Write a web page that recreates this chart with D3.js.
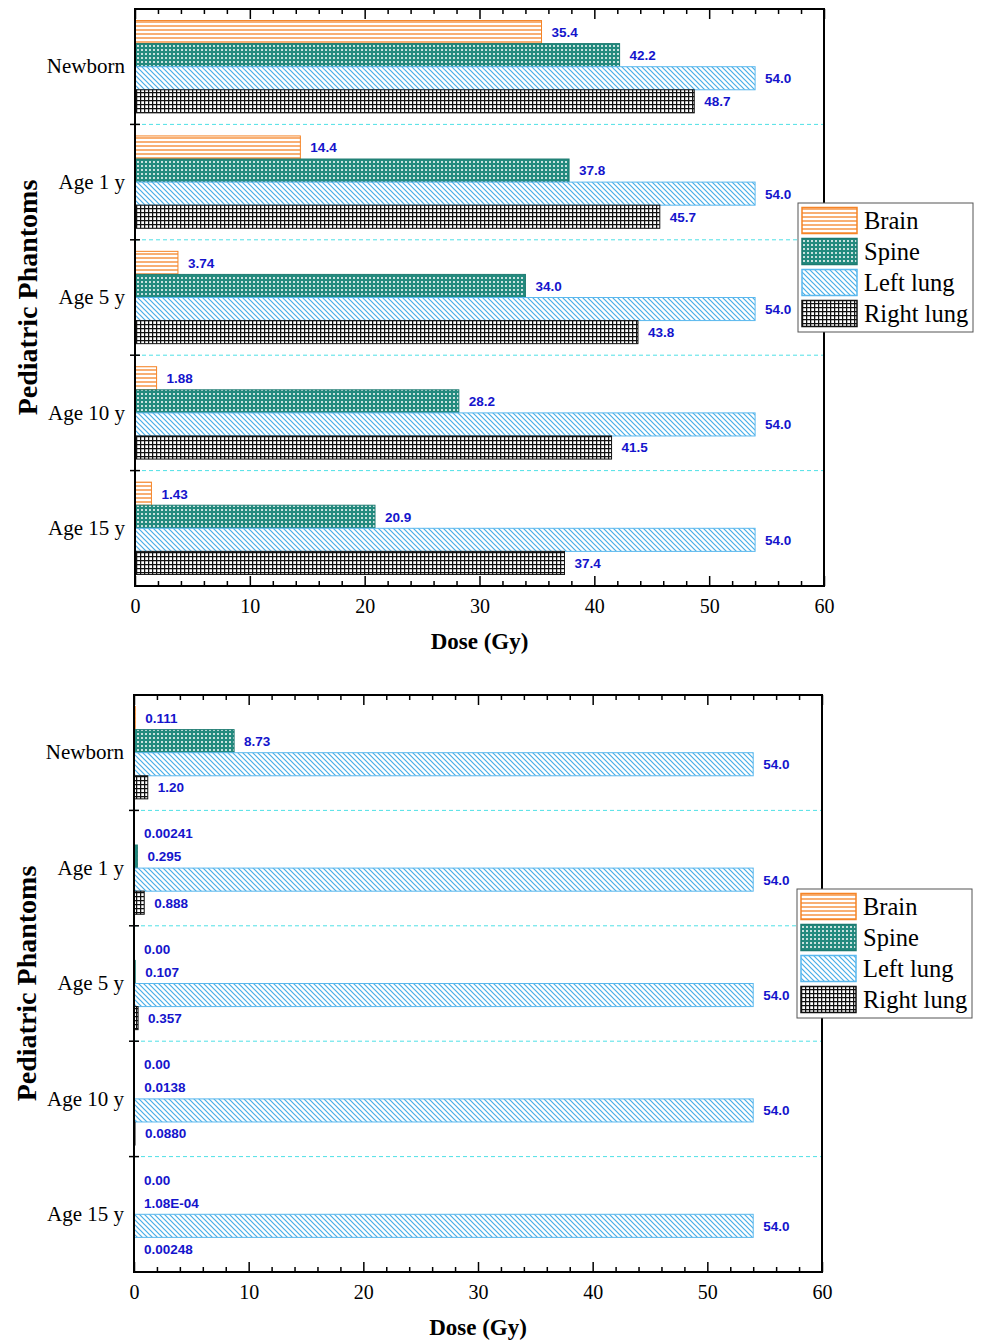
<!DOCTYPE html>
<html>
<head>
<meta charset="utf-8">
<script src="https://cdn.jsdelivr.net/npm/d3@7"></script>
<style>
  body { margin: 0; background: #fff; }
  svg { display: block; }
</style>
</head>
<body>
<div id="chart"></div>
<script>
// data
const groups = ["Newborn", "Age 1 y", "Age 5 y", "Age 10 y", "Age 15 y"];
const organs = ["Brain", "Spine", "Left lung", "Right lung"];
const xTicks = [0, 10, 20, 30, 40, 50, 60];

// upper panel (labels kept as printed)
const topBrain = ["35.4", "14.4", "3.74", "1.88", "1.43"];
const topSpine = ["42.2", "37.8", "34.0", "28.2", "20.9"];
const topLeftLung = ["54.0", "54.0", "54.0", "54.0", "54.0"];
const topRightLung = ["48.7", "45.7", "43.8", "41.5", "37.4"];

// lower panel
const botBrain = ["0.111", "0.00241", "0.00", "0.00", "0.00"];
const botSpine = ["8.73", "0.295", "0.107", "0.0138", "1.08E-04"];
const botLeftLung = ["54.0", "54.0", "54.0", "54.0", "54.0"];
const botRightLung = ["1.20", "0.888", "0.357", "0.0880", "0.00248"];

const serif = "'Liberation Serif', 'Times New Roman', serif";
const sans = "'Liberation Sans', Arial, sans-serif";
const labelBlue = "#1414cc";

const svg = d3.select("#chart").append("svg")
  .attr("width", 982)
  .attr("height", 1341);

// hatch patterns
const defs = svg.append("defs");

const pBrain = defs.append("pattern").attr("id", "p-brain")
  .attr("patternUnits", "userSpaceOnUse").attr("width", 4).attr("height", 4);
pBrain.append("rect").attr("width", 4).attr("height", 4).attr("fill", "#fff");
pBrain.append("line").attr("x1", 0).attr("x2", 4).attr("y1", 2).attr("y2", 2)
  .attr("stroke", "#f58426").attr("stroke-width", 1.3);

const pSpine = defs.append("pattern").attr("id", "p-spine")
  .attr("patternUnits", "userSpaceOnUse").attr("width", 4).attr("height", 4);
pSpine.append("rect").attr("width", 4).attr("height", 4).attr("fill", "#238a7e");
pSpine.append("circle").attr("cx", 2).attr("cy", 2).attr("r", 1).attr("fill", "#fff");

const pLeft = defs.append("pattern").attr("id", "p-left")
  .attr("patternUnits", "userSpaceOnUse").attr("width", 5).attr("height", 5);
pLeft.append("rect").attr("width", 5).attr("height", 5).attr("fill", "#fff");
pLeft.append("path").attr("d", "M-1,-1L6,6M-1,4L1,6M4,-1L6,1")
  .attr("stroke", "#48aee8").attr("stroke-width", 1.2);

const pRight = defs.append("pattern").attr("id", "p-right")
  .attr("patternUnits", "userSpaceOnUse").attr("width", 4).attr("height", 4);
pRight.append("rect").attr("width", 4).attr("height", 4).attr("fill", "#fff");
pRight.append("path").attr("d", "M0,0.5H4M0.5,0V4")
  .attr("stroke", "#111").attr("stroke-width", 1.5);

const fills = ["url(#p-brain)", "url(#p-spine)", "url(#p-left)", "url(#p-right)"];
const strokes = ["#f58426", "#1d7a70", "#5ab8ee", "#111"];

function drawPanel(series, box, legendBox) {
  const g = svg.append("g");
  const x = d3.scaleLinear().domain([0, 60]).range([box.x0, box.x1]);
  const y = d3.scaleBand().domain(groups).range([box.y0, box.y1]);
  const yi = d3.scaleBand().domain(organs).range([0, y.bandwidth()])
    .paddingInner(0).paddingOuter(0.5);

  // dashed separators
  groups.slice(1).forEach(grp => {
    g.append("line")
      .attr("x1", box.x0).attr("x2", box.x1)
      .attr("y1", y(grp)).attr("y2", y(grp))
      .attr("stroke", "#4fe0e6").attr("stroke-width", 1)
      .attr("stroke-dasharray", "4,3");
  });

  // bars
  series.forEach((vals, si) => {
    const gs = g.append("g");
    gs.selectAll("rect")
      .data(vals)
      .join("rect")
      .attr("x", x(0))
      .attr("y", (d, i) => y(groups[i]) + yi(organs[si]))
      .attr("width", d => x(+d) - x(0))
      .attr("height", yi.bandwidth())
      .attr("fill", fills[si])
      .attr("stroke", strokes[si])
      .attr("stroke-width", 1);
    gs.selectAll("text")
      .data(vals)
      .join("text")
      .attr("x", d => x(+d) + 10)
      .attr("y", (d, i) => y(groups[i]) + yi(organs[si]) + yi.bandwidth() / 2)
      .attr("dy", "0.36em")
      .attr("font-family", sans)
      .attr("font-weight", "bold")
      .attr("font-size", 13.5)
      .attr("fill", labelBlue)
      .text(d => d);
  });

  // frame
  g.append("rect")
    .attr("x", box.x0).attr("y", box.y0)
    .attr("width", box.x1 - box.x0).attr("height", box.y1 - box.y0)
    .attr("fill", "none").attr("stroke", "#000").attr("stroke-width", 2);

  // inward ticks, bottom and top
  const minor = d3.range(0, 61, 2).filter(v => v % 10 !== 0);
  const bottom = g.append("g").attr("transform", `translate(0,${box.y1})`)
    .call(d3.axisBottom(x).tickValues(xTicks).tickSize(-10).tickPadding(13).tickFormat(d3.format("d")));
  bottom.select(".domain").remove();
  bottom.selectAll("line").attr("stroke-width", 1.5);
  bottom.selectAll("text").attr("font-family", serif).attr("font-size", 20).attr("fill", "#000");

  const bottomMinor = g.append("g").attr("transform", `translate(0,${box.y1})`)
    .call(d3.axisBottom(x).tickValues(minor).tickSize(-5).tickFormat(""));
  bottomMinor.select(".domain").remove();
  bottomMinor.selectAll("line").attr("stroke-width", 1.5);

  const top = g.append("g").attr("transform", `translate(0,${box.y0})`)
    .call(d3.axisTop(x).tickValues(xTicks).tickSize(-10).tickFormat(""));
  top.select(".domain").remove();
  top.selectAll("line").attr("stroke-width", 1.5);

  const topMinor = g.append("g").attr("transform", `translate(0,${box.y0})`)
    .call(d3.axisTop(x).tickValues(minor).tickSize(-5).tickFormat(""));
  topMinor.select(".domain").remove();
  topMinor.selectAll("line").attr("stroke-width", 1.5);

  // left ticks at group boundaries
  groups.slice(1).forEach(grp => {
    g.append("line")
      .attr("x1", box.x0 - 5).attr("x2", box.x0 + 5)
      .attr("y1", y(grp)).attr("y2", y(grp))
      .attr("stroke", "#000").attr("stroke-width", 1.5);
  });

  // category labels
  g.selectAll(".cat")
    .data(groups)
    .join("text")
    .attr("class", "cat")
    .attr("x", box.x0 - 10)
    .attr("y", d => y(d) + y.bandwidth() / 2)
    .attr("text-anchor", "end")
    .attr("dy", "0.32em")
    .attr("font-family", serif)
    .attr("font-size", 21)
    .text(d => d);

  // axis titles
  g.append("text")
    .attr("transform", `translate(${box.x0 - 108},${(box.y0 + box.y1) / 2}) rotate(-90)`)
    .attr("text-anchor", "middle")
    .attr("dy", "0.35em")
    .attr("font-family", serif)
    .attr("font-weight", "bold")
    .attr("font-size", 28)
    .text("Pediatric Phantoms");

  g.append("text")
    .attr("x", (box.x0 + box.x1) / 2)
    .attr("y", box.y1 + 63)
    .attr("text-anchor", "middle")
    .attr("font-family", serif)
    .attr("font-weight", "bold")
    .attr("font-size", 23)
    .text("Dose (Gy)");

  // legend
  const lg = g.append("g").attr("transform", `translate(${legendBox.x},${legendBox.y})`);
  lg.append("rect")
    .attr("width", 175).attr("height", 129)
    .attr("fill", "#fff").attr("stroke", "#555").attr("stroke-width", 1);
  organs.forEach((o, i) => {
    lg.append("rect")
      .attr("x", 4).attr("y", 4.5 + i * 31)
      .attr("width", 55).attr("height", 26)
      .attr("fill", fills[i]).attr("stroke", strokes[i]).attr("stroke-width", 1.5);
    lg.append("text")
      .attr("x", 66).attr("y", 17.5 + i * 31)
      .attr("dy", "0.35em")
      .attr("font-family", serif)
      .attr("font-size", 24.5)
      .text(o);
  });
}

drawPanel([topBrain, topSpine, topLeftLung, topRightLung],
  { x0: 135, x1: 824, y0: 9, y1: 586 }, { x: 798, y: 203 });
drawPanel([botBrain, botSpine, botLeftLung, botRightLung],
  { x0: 134, x1: 822, y0: 695, y1: 1272 }, { x: 797, y: 889 });
</script>
</body>
</html>
